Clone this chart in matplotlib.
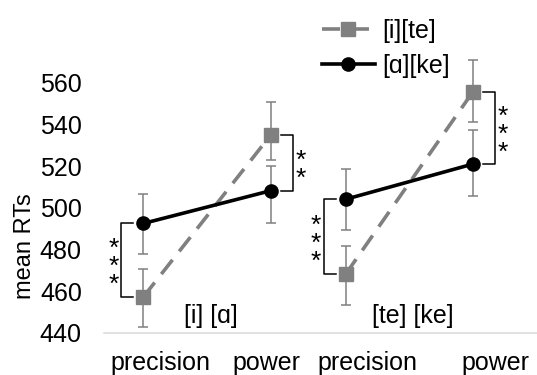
import numpy as np
import matplotlib
matplotlib.use('Agg')
import matplotlib.pyplot as plt

plt.rcParams['font.family'] = ['Liberation Sans', 'DejaVu Sans']

# data
conditions = ['precision', 'power', 'precision', 'power']
x_pos = np.array([0, 1, 1.59, 2.59])
label_pos = [0.13, 0.97, 1.757, 2.767]
group_labels = ['[i] [ɑ]', '[te] [ke]']
group_label_x = [0.53, 2.12]

gray_mean = np.array([457.4, 535.0, 468.3, 555.8])
gray_lo = np.array([14.5, 12.0, 14.9, 14.4])
gray_hi = np.array([13.2, 16.0, 13.6, 15.2])

black_mean = np.array([492.6, 508.3, 504.2, 521.1])
black_lo = np.array([14.7, 15.7, 14.8, 15.3])
black_hi = np.array([14.0, 11.7, 14.5, 16.3])

stars = [3, 2, 3, 3]
star_side = [-1, 1, -1, 1]

gray = '#808080'

fig = plt.figure(figsize=(5.37, 3.75), dpi=100)
ax_box = [104/537, 42/375, 433/537, 291.7/375]
ax = fig.add_axes(ax_box)
xlim = (-0.3105, 3.0935)
ax.set_xlim(*xlim)
ax.set_ylim(440, 580)

# pixels -> data units along x
px = (xlim[1] - xlim[0]) / (ax_box[2] * 537)

# error bars (all gray)
ax.errorbar(x_pos, gray_mean, yerr=[gray_lo, gray_hi], fmt='none', ecolor=gray,
            elinewidth=1.1, capsize=3.3, capthick=1.1, zorder=1)
ax.errorbar(x_pos, black_mean, yerr=[black_lo, black_hi], fmt='none', ecolor=gray,
            elinewidth=1.1, capsize=3.3, capthick=1.1, zorder=1)

# lines within each group
for g in range(2):
    idx = [2*g, 2*g + 1]
    ax.plot(x_pos[idx], gray_mean[idx], color=gray, lw=2.6, ls=(0, (5, 3)),
            marker='s', ms=9.5, mfc=gray, mec=gray, zorder=2,
            label='[i][te]' if g == 0 else None)
    ax.plot(x_pos[idx], black_mean[idx], color='black', lw=2.6, ls='-',
            marker='o', ms=9.5, zorder=3,
            label='[ɑ][ke]' if g == 0 else None)

# significance brackets
for i in range(4):
    s = star_side[i]
    y0, y1 = gray_mean[i], black_mean[i]
    xa = x_pos[i] + s*10*px
    xv = x_pos[i] + s*22*px
    ax.plot([xa, xv, xv, xa], [y0, y0, y1, y1], color='black', lw=1.1, zorder=4)
    ymid = (y0 + y1) / 2
    ax.annotate('\n'.join(['*'] * stars[i]), xy=(x_pos[i] + s*30*px, ymid),
                xytext=(0, -5), textcoords='offset points',
                ha='center', va='center', fontsize=19, linespacing=0.68)

for lab, gx in zip(group_labels, group_label_x):
    ax.text(gx, 448.3, lab, ha='center', va='center', fontsize=18)

ax.set_xticks(label_pos)
ax.set_xticklabels(conditions, fontsize=18)
ax.set_yticks(np.arange(440, 561, 20))
ax.tick_params(axis='y', length=0, pad=16, labelsize=18)
ax.tick_params(axis='x', length=0, pad=13)
for sp in ['top', 'right', 'left']:
    ax.spines[sp].set_visible(False)
ax.spines['bottom'].set_color('#d9d9d9')
ax.spines['bottom'].set_linewidth(1.1)

fig.text(25/537, 1 - 246.5/375, 'mean RTs', rotation=90, ha='center', va='center',
         fontsize=17)

ax.legend(loc='upper left', bbox_to_anchor=(322/537, 1 - 19/375),
          bbox_transform=fig.transFigure, frameon=False, fontsize=18,
          borderpad=0, borderaxespad=0, handlelength=2.1, handletextpad=0.33,
          labelspacing=0.42)

fig.savefig('out.png', dpi=100)
